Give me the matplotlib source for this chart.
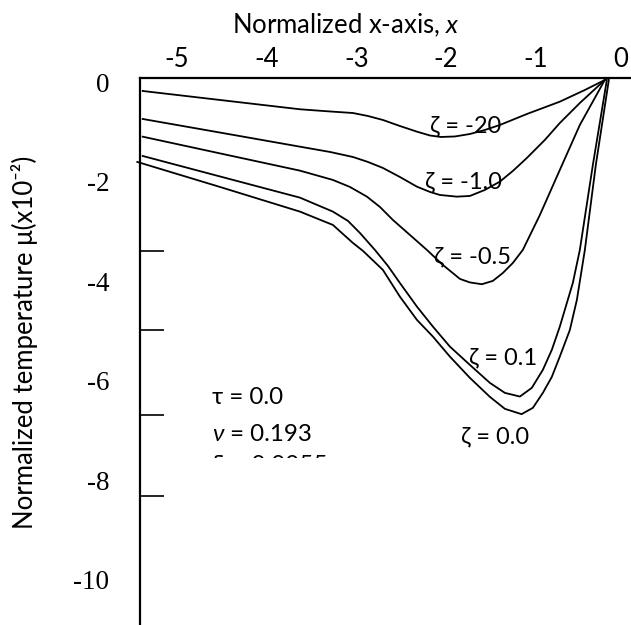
import matplotlib
matplotlib.use("Agg")
import matplotlib.pyplot as plt
from matplotlib.transforms import ScaledTranslation
from matplotlib.patches import Rectangle

SANS = ["Lato", "DejaVu Sans"]
plt.rcParams["font.family"] = SANS
plt.rcParams["mathtext.fontset"] = "custom"
plt.rcParams["mathtext.rm"] = "Lato"
plt.rcParams["mathtext.it"] = "Lato:italic"

# Normalized temperature profiles mu (x10^-2) along the normalized x-axis
x_m20 = [-5.380, -4.519, -3.628, -3.294, -3.038, -2.871, -2.704, -2.515, -2.325, -2.180,
         -2.058, -1.902, -1.735, -1.568, -1.401, -1.100, -0.733, -0.454, -0.232]
mu_m20 = [-0.261, -0.442, -0.629, -0.673, -0.704, -0.764, -0.844, -0.965, -1.079, -1.156,
          -1.186, -1.176, -1.126, -1.045, -0.945, -0.724, -0.476, -0.241, -0.040]

x_m10 = [-5.380, -4.519, -3.628, -3.294, -3.038, -2.871, -2.704, -2.515, -2.325, -2.180,
         -2.069, -1.880, -1.735, -1.568, -1.401, -1.256, -1.100, -0.900, -0.733, -0.510,
         -0.232]
mu_m10 = [-0.824, -1.097, -1.381, -1.487, -1.588, -1.688, -1.809, -1.990, -2.185, -2.291,
          -2.352, -2.386, -2.372, -2.251, -2.084, -1.869, -1.608, -1.246, -0.905, -0.503,
          -0.040]

x_m05 = [-5.380, -4.519, -3.628, -3.261, -3.071, -2.882, -2.737, -2.593, -2.403, -2.214,
         -2.036, -1.846, -1.735, -1.601, -1.479, -1.367, -1.256, -1.145, -0.955, -0.733,
         -0.510, -0.232]
mu_m05 = [-1.180, -1.516, -1.863, -2.050, -2.191, -2.386, -2.593, -2.854, -3.156, -3.457,
          -3.759, -4.040, -4.111, -4.147, -4.080, -3.920, -3.719, -3.457, -2.754, -1.849,
          -0.945, -0.040]

x_p01 = [-5.380, -4.519, -3.628, -3.261, -3.093, -2.960, -2.793, -2.648, -2.515, -2.325,
         -2.147, -1.958, -1.735, -1.512, -1.345, -1.178, -1.045, -0.922, -0.822, -0.733,
         -0.588, -0.510, -0.365, -0.209]
mu_p01 = [-1.568, -1.980, -2.406, -2.687, -2.874, -3.116, -3.457, -3.779, -4.121, -4.597,
          -4.999, -5.401, -5.769, -6.131, -6.332, -6.406, -6.231, -5.869, -5.467, -4.999,
          -4.121, -3.457, -1.749, -0.040]

x_00 = [-5.440, -4.519, -3.628, -3.261, -3.038, -2.926, -2.704, -2.515, -2.325, -2.147,
        -1.958, -1.735, -1.512, -1.345, -1.159, -1.033, -0.922, -0.822, -0.733, -0.621,
        -0.543, -0.454, -0.332, -0.187]
mu_00 = [-1.688, -2.191, -2.687, -2.955, -3.317, -3.477, -3.859, -4.396, -4.864, -5.200,
         -5.602, -6.030, -6.412, -6.653, -6.760, -6.633, -6.332, -6.010, -5.602, -5.065,
         -4.462, -3.457, -1.749, -0.040]

series = [(x_m20, mu_m20), (x_m10, mu_m10), (x_m05, mu_m05), (x_p01, mu_p01), (x_00, mu_00)]

# curve labels and where they sit
curve_labels = ["ζ = -20", "ζ = -1.0", "ζ = -0.5", "ζ = 0.1", "ζ = 0.0"]
label_x = [-1.779, -1.802, -1.702, -1.367, -1.456]
label_y = [-0.965, -2.090, -3.598, -5.628, -7.216]

x_ticks = [-5, -4, -3, -2, -1, 0]
x_marks = [-4, -3, -2, -1]
y_ticks = [0, -2, -4, -6, -8, -10]
y_marks = [-3.48, -5.07, -6.77, -8.40]

fig = plt.figure(figsize=(6.31, 6.25), dpi=100)
ax = fig.add_axes([140 / 631, 0.0, 491 / 631, 547 / 625])
ax.set_xlim(-5.41, 0.06)
ax.set_ylim(-11.0, 0.0)

for xs, ys in series:
    ax.plot(xs, ys, color="black", lw=1.3, clip_on=False,
            solid_joinstyle="round")

for s in ("right", "bottom"):
    ax.spines[s].set_visible(False)
for s in ("top", "left"):
    ax.spines[s].set_linewidth(1.6)

# x axis on top, tick marks only at interior values
ax.xaxis.tick_top()
ax.set_xticks(x_ticks)
ax.set_xticklabels([str(v) for v in x_ticks])
ax.set_xticks(x_marks, minor=True)
ax.tick_params(axis="x", which="major", length=0, pad=4, labelsize=18.5)
ax.tick_params(axis="x", which="minor", direction="in", length=13.7, width=1.2)
# keep the last label inside the figure edge
edge_shift = ScaledTranslation(-4.5 / 100, 0, fig.dpi_scale_trans)
last = ax.get_xticklabels()[-1]
last.set_transform(last.get_transform() + edge_shift)

ax.set_yticks(y_ticks)
ax.set_yticklabels([str(v) for v in y_ticks], family="Liberation Serif")
ax.set_yticks(y_marks, minor=True)
ax.tick_params(axis="y", which="major", length=0, pad=22, labelsize=19.5)
ax.tick_params(axis="y", which="minor", direction="in", length=17.5, width=1.2)
ax.yaxis.set_minor_formatter(plt.NullFormatter())
shift = ScaledTranslation(0, -4.5 / 100, fig.dpi_scale_trans)
for lab in ax.get_yticklabels():
    lab.set_transform(lab.get_transform() + shift)

fig.text(346 / 631, 1 - 25 / 625, r"Normalized x-axis, $\mathit{x}$",
         ha="center", va="center", fontsize=18.5)
fig.text(25 / 631, 1 - 342 / 625, "Normalized temperature μ(x10⁻²)",
         ha="center", va="center", rotation=90, fontsize=18.5)

for txt, lx, ly in zip(curve_labels, label_x, label_y):
    ax.text(lx, ly, txt, ha="center", va="center", fontsize=17)

ax.text(-4.605, -6.432, "τ = 0.0", ha="left", va="center", fontsize=17.4)
nu = ax.text(-4.605, -7.176, "ν", ha="left", va="center", fontsize=17.4, style="italic")
ax.annotate(" = 0.193", xy=(1, 0.5), xycoords=nu, ha="left", va="center", fontsize=17.4)
ax.text(-4.605, -7.928, "δ = 0.0055", ha="left", va="baseline", fontsize=17.4)
ax.add_patch(Rectangle((-4.75, -9.0), 2.0, 9.0 - 7.648, facecolor="white",
                       edgecolor="none", zorder=5))

fig.savefig("out.png", dpi=100)
